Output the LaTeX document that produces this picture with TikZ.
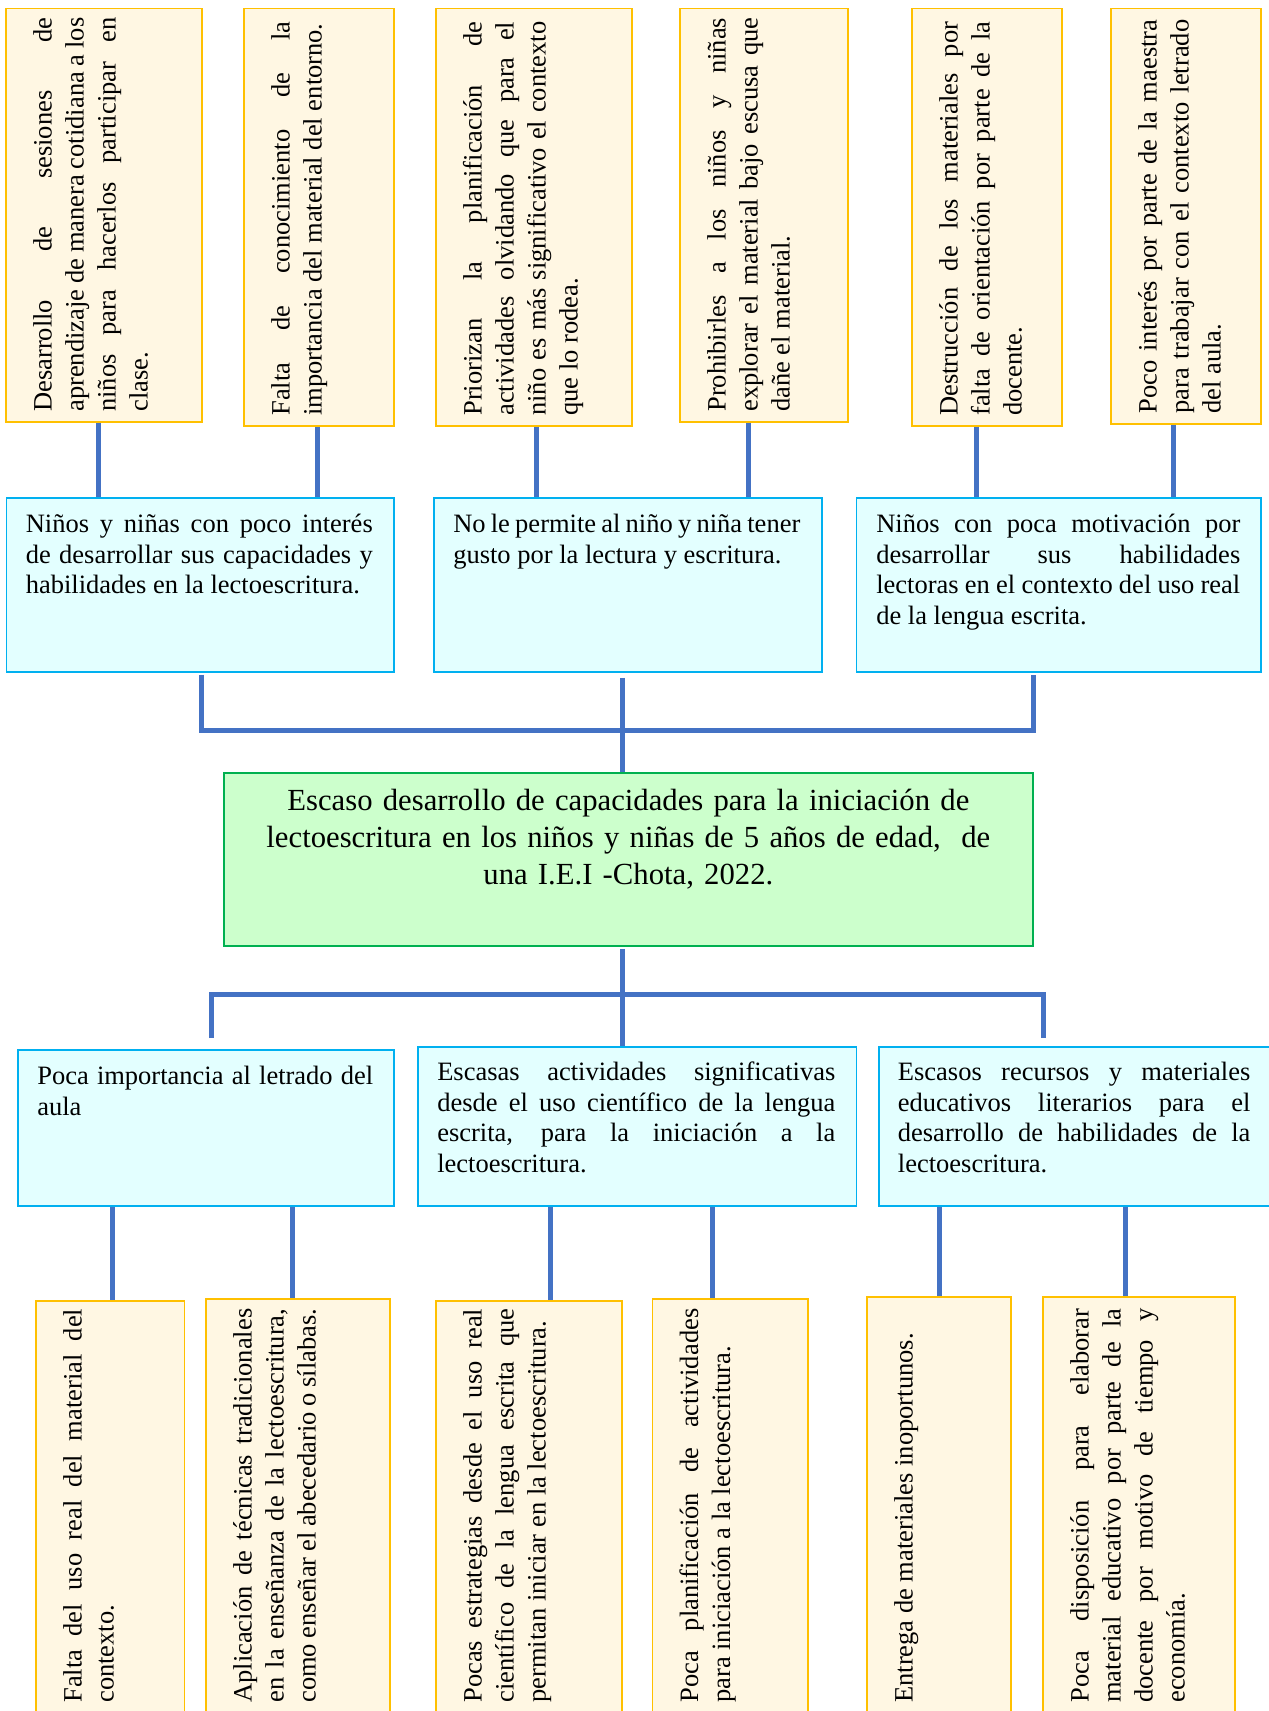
\documentclass[tikz,border=0pt]{standalone}
\usepackage{fontspec}
\setmainfont{Liberation Serif}
\usetikzlibrary{fit}
\definecolor{linkblue}{HTML}{4472C4}
\definecolor{ybord}{HTML}{FFC000}
\definecolor{yfill}{HTML}{FFF7E3}
\definecolor{cbord}{HTML}{00B0F0}
\definecolor{cfill}{HTML}{E3FFFF}
\definecolor{gbord}{HTML}{00B050}
\definecolor{gfill}{HTML}{CCFFCC}
\hyphenpenalty=10000
\tolerance=9999

\begin{document}
\begin{tikzpicture}[x=1pt,y=-1pt,
  ybox/.style={draw=ybord,fill=yfill,line width=1.8pt,inner sep=0pt},
  cbox/.style={draw=cbord,fill=cfill,line width=1.8pt,inner sep=0pt},
  pbox/.style={draw=gbord,fill=gfill,line width=1.8pt,inner sep=0pt},
  vtext/.style={rotate=90,anchor=base west,inner sep=0pt,text width=394pt,align=justify,font=\fontsize{26.5}{32}\selectfont},
  htext/.style={anchor=base west,inner sep=0pt,align=justify,font=\fontsize{26.5}{30.5}\selectfont},
  ptext/.style={anchor=base,inner sep=0pt,text width=770pt,align=center,font=\fontsize{30.7}{37}\selectfont},
  link/.style={draw=linkblue,line width=5pt}]

\fill[white] (0,0) rectangle (1269,1711);
\useasboundingbox (0,0) rectangle (1269,1711);
\clip (0,0) rectangle (1269,1711);

% {Efectos};
\node[ybox,fit={(6,8.5) (202,422)}] (es1) {};
\node[ybox,fit={(244,8.5) (394,426)}] (es2) {};
\node[ybox,fit={(436,8.5) (632,426)}] (es3) {};
\node[ybox,fit={(680,8.5) (848,422)}] (es4) {};
\node[ybox,fit={(912,8.5) (1062,426)}] (es5) {};
\node[ybox,fit={(1111,8.5) (1261,424)}] (es6) {};

\node[vtext] (es1t) at ([xshift=46.5pt,yshift=11pt]es1.south west) {Desarrollo de sesiones de\linebreak aprendizaje de manera cotidiana a los\linebreak niños para hacerlos participar en\linebreak clase.};
\node[vtext] (es2t) at ([xshift=46.5pt,yshift=11pt]es2.south west) {Falta de conocimiento de la\linebreak importancia del material del entorno.};
\node[vtext] (es3t) at ([xshift=46.5pt,yshift=11pt]es3.south west) {Priorizan la planificación de\linebreak actividades olvidando que para el\linebreak niño es más significativo el contexto\linebreak que lo rodea.};
\node[vtext] (es4t) at ([xshift=46.5pt,yshift=11pt]es4.south west) {Prohibirles a los niños y niñas\linebreak explorar el material bajo escusa que\linebreak dañe el material.};
\node[vtext] (es5t) at ([xshift=46.5pt,yshift=11pt]es5.south west) {Destrucción de los materiales por\linebreak falta de orientación por parte de la\linebreak docente.};
\node[vtext] (es6t) at ([xshift=46.5pt,yshift=11pt]es6.south west) {Poco interés por parte de la maestra\linebreak para trabajar con el contexto letrado\linebreak del aula.};

\node[cbox,fit={(6.5,498) (394,672)}] (ef1) {};
\node[cbox,fit={(434,498) (822,672)}] (ef2) {};
\node[cbox,fit={(856.5,498) (1261,672)}] (ef3) {};

\node[htext,text width=347pt] (ef1t) at ([xshift=20pt,yshift=-35.5pt]ef1.north west) {Niños y niñas con poco interés\linebreak de desarrollar sus capacidades y\linebreak habilidades en la lectoescritura.};
\node[htext,text width=347pt] (ef2t) at ([xshift=20pt,yshift=-35.5pt]ef2.north west) {No le permite al niño y niña tener\linebreak gusto por la lectura y escritura.};
\node[htext,text width=364pt] (ef3t) at ([xshift=20.5pt,yshift=-35.5pt]ef3.north west) {Niños con poca motivación por\linebreak desarrollar sus habilidades\linebreak lectoras en el contexto del uso real\linebreak de la lengua escrita.};

\foreach \up/\dn/\dx in {es1/ef1/-6,es2/ef1/-1.5,es3/ef2/2,es4/ef2/-16,es5/ef3/-10.5,es6/ef3/-13}
  \draw[link] ([xshift=\dx pt]\up.south) -- ([xshift=\dx pt]\up.south |- \dn.north);

% {Problema central};
\node[pbox,fit={(223.7,772.7) (1033,946)}] (prob) {};
\node[ptext] (probt) at ([yshift=-39pt]prob.north) {Escaso desarrollo de capacidades para la iniciación de\\lectoescritura en los niños y niñas de 5 años de edad,\ \ de\\una I.E.I -Chota, 2022.};

\coordinate (jt) at (622,730);
\draw[link] ([xshift=1.5pt,yshift=-2pt]ef1.south) |- (jt) -| ([xshift=-25.75pt,yshift=-2pt]ef3.south);
\draw[link] ([xshift=-6pt,yshift=-5pt]ef2.south) -- ([xshift=-6pt]ef2.south |- prob.north);

% {Causas};
\node[cbox,fit={(18,1050) (394,1206)}] (ca1) {};
\node[cbox,fit={(418,1046.7) (856.5,1206)}] (ca2) {};
\node[cbox,fit={(878.6,1046.7) (1272,1206)}] (ca3) {};

\node[htext,text width=336pt] (ca1t) at ([xshift=20pt,yshift=-35.5pt]ca1.north west) {Poca importancia al letrado del\linebreak aula};
\node[htext,text width=398pt] (ca2t) at ([xshift=20pt,yshift=-35pt]ca2.north west) {Escasas actividades significativas\linebreak desde el uso científico de la lengua\linebreak escrita, para la iniciación a la\linebreak lectoescritura.};
\node[htext,text width=352.5pt] (ca3t) at ([xshift=20pt,yshift=-35pt]ca3.north west) {Escasos recursos y materiales\linebreak educativos literarios para el\linebreak desarrollo de habilidades de la\linebreak lectoescritura.};

\draw[link] ([xshift=-6.35pt,yshift=-2pt]prob.south) -- ([xshift=-6.35pt]prob.south |- ca2.north);
\coordinate (jb) at (622,994);
\draw[link] ([xshift=5pt,yshift=11pt]ca1.north) |- (jb) -| ([xshift=-32.3pt,yshift=7.7pt]ca3.north);

\node[ybox,fit={(36,1300.7) (184.5,1713)}] (cs1) {};
\node[ybox,fit={(206,1298.7) (390,1713)}] (cs2) {};
\node[ybox,fit={(436,1300.7) (622,1713)}] (cs3) {};
\node[ybox,fit={(652.4,1299) (808,1713)}] (cs4) {};
\node[ybox,fit={(867,1296.7) (1011,1713)}] (cs5) {};
\node[ybox,fit={(1043,1296.7) (1235,1713)}] (cs6) {};

\node[vtext] (cs1t) at ([xshift=46.5pt,yshift=11pt]cs1.south west) {Falta del uso real del material del\linebreak contexto.};
\node[vtext] (cs2t) at ([xshift=46.5pt,yshift=11pt]cs2.south west) {Aplicación de técnicas tradicionales\linebreak en la enseñanza de la lectoescritura,\linebreak como enseñar el abecedario o sílabas.};
\node[vtext] (cs3t) at ([xshift=46.5pt,yshift=11pt]cs3.south west) {Pocas estrategias desde el uso real\linebreak científico de la lengua escrita que\linebreak permitan iniciar en la lectoescritura.};
\node[vtext] (cs4t) at ([xshift=46.5pt,yshift=11pt]cs4.south west) {Poca planificación de actividades\linebreak para iniciación a la lectoescritura.};
\node[vtext] (cs5t) at ([xshift=46.5pt,yshift=11pt]cs5.south west) {Entrega de materiales inoportunos.};
\node[vtext] (cs6t) at ([xshift=46.5pt,yshift=11pt]cs6.south west) {Poca disposición para elaborar\linebreak material educativo por parte de la\linebreak docente por motivo de tiempo y\linebreak economía.};

\foreach \dn/\up/\dx in {cs1/ca1/1.75,cs2/ca1/-6,cs3/ca2/21,cs4/ca2/-18.2,cs5/ca3/0,cs6/ca3/-14}
  \draw[link] ([xshift=\dx pt]\dn.north) -- ([xshift=\dx pt]\dn.north |- \up.south);

\end{tikzpicture}
\end{document}
